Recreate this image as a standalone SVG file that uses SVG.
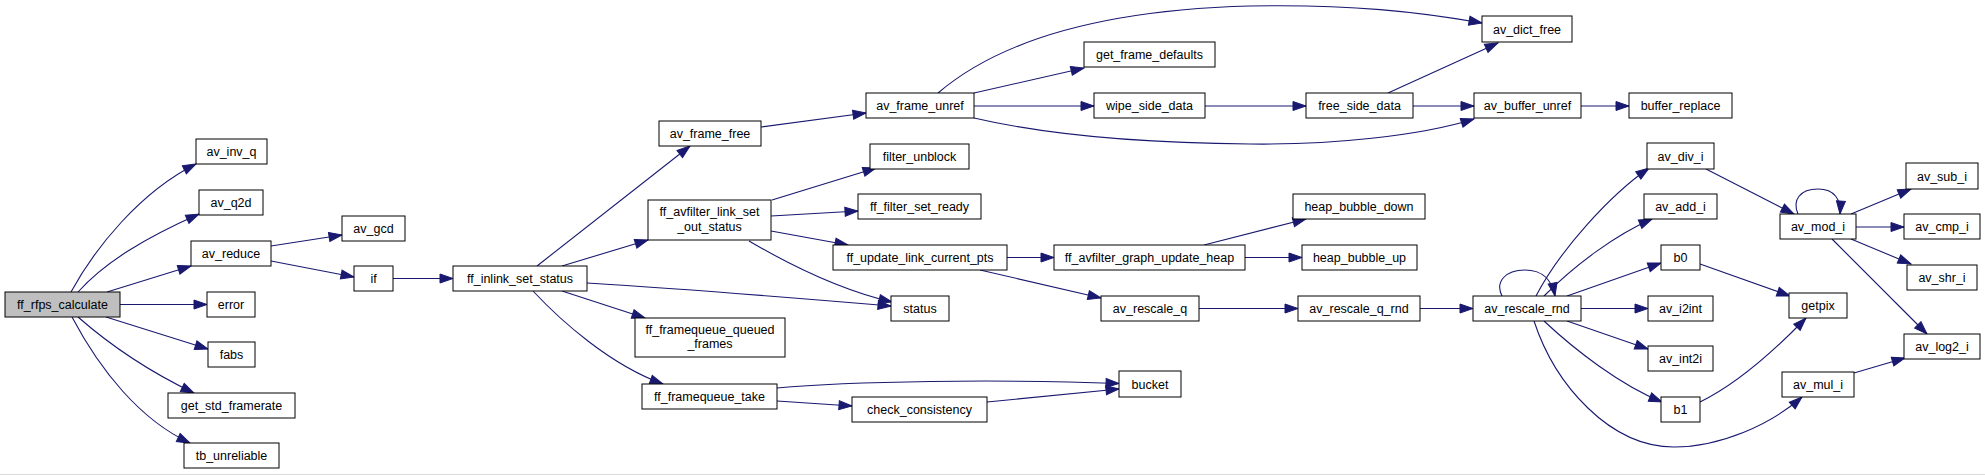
<svg xmlns="http://www.w3.org/2000/svg" width="1985" height="475" viewBox="0 0 1985 475">
<style>
.n rect{fill:#fff;stroke:#000;stroke-width:1}
.n.root rect{fill:#bfbfbf}
.n text{font-family:"Liberation Sans",Arial,sans-serif;font-size:12.5px;fill:#000;text-anchor:middle}
#edges path{fill:none;stroke:#191970;stroke-width:1.1;marker-end:url(#arr)}
</style>
<defs>
<marker id="arr" markerUnits="userSpaceOnUse" markerWidth="14" markerHeight="10" refX="13" refY="4.5" orient="auto" overflow="visible">
<path d="M0,0 L13,4.5 L0,9 z" fill="#191970" stroke="#191970" stroke-width="1"/>
</marker>
</defs>
<rect x="0" y="0" width="1985" height="475" fill="#fff"/>
<line x1="0" y1="474.5" x2="1985" y2="474.5" stroke="#dcdcdc" stroke-width="1"/>
<g id="edges">
<path d="M71,292 C95,248 140,192 196,164"/>
<path d="M78,292 C105,262 145,238 199,214"/>
<path d="M107,292 L191,266"/>
<path d="M120,304.5 L207,304.5"/>
<path d="M106,317 L208,349"/>
<path d="M78,317 C110,345 150,372 194,393"/>
<path d="M72,317 C100,370 140,420 190,443"/>
<path d="M271,246 L342,235"/>
<path d="M271,261 L354,277"/>
<path d="M393,278.5 L453,278.5"/>
<path d="M537,266 L690,146"/>
<path d="M562,266 L648,240"/>
<path d="M587,283 C700,290 820,300 891,306"/>
<path d="M562,291 L645,318"/>
<path d="M533,291 C560,320 610,365 663,384"/>
<path d="M772,200 L876,168"/>
<path d="M771,216 L858,211"/>
<path d="M771,231 L848,245"/>
<path d="M749,241 C790,265 840,290 892,302"/>
<path d="M1007,257.5 L1054,257.5"/>
<path d="M980,270 L1101,298"/>
<path d="M1204,245 L1306,219"/>
<path d="M1245,257.5 L1302,257.5"/>
<path d="M1199,308.5 L1298,308.5"/>
<path d="M1420,308.5 L1473,308.5"/>
<path d="M777,388 C850,381 1000,379 1119,383.5"/>
<path d="M777,401 L852,406"/>
<path d="M987,402 L1119,389"/>
<path d="M761,127 L866,113"/>
<path d="M938,93 C1000,40 1100,10 1250,6 C1350,4 1420,12 1482,23"/>
<path d="M974,93 L1084,68"/>
<path d="M974,106 L1094,106"/>
<path d="M974,118 C1030,131 1120,143 1250,144 C1330,145 1420,136 1474,119"/>
<path d="M1205,106 L1306,106"/>
<path d="M1388,93 L1498,43"/>
<path d="M1413,106 L1474,106"/>
<path d="M1581,106 L1629,106"/>
<path d="M1502,296 C1495,282 1505,270 1525,270 C1542,270 1552,280 1555,296"/>
<path d="M1536,296 C1560,250 1610,195 1649,168"/>
<path d="M1544,296 C1575,265 1615,235 1652,219"/>
<path d="M1567,296 L1661,263"/>
<path d="M1581,308.5 L1648,308.5"/>
<path d="M1567,321 L1648,349"/>
<path d="M1544,321 C1575,350 1620,385 1662,402"/>
<path d="M1534,321 C1555,385 1610,447 1674,447 C1720,447 1770,425 1802,397"/>
<path d="M1706,169 L1794,214"/>
<path d="M1798,214 C1792,200 1800,189 1818,189 C1835,189 1841,200 1840,214"/>
<path d="M1851,214 L1911,189"/>
<path d="M1856,227 L1904,227"/>
<path d="M1851,239 L1911,264"/>
<path d="M1832,239 L1927,334"/>
<path d="M1700,264 L1790,296"/>
<path d="M1700,402 C1735,385 1775,350 1806,318"/>
<path d="M1854,373 L1905,358"/>
</g>
<g id="ff_rfps_calculate" class="n root"><rect x="5" y="292" width="115" height="25"/><text x="62.5" y="309">ff_rfps_calculate</text></g>
<g id="av_inv_q" class="n"><rect x="196" y="139" width="71" height="25"/><text x="231.5" y="156">av_inv_q</text></g>
<g id="av_q2d" class="n"><rect x="199" y="190" width="64" height="25"/><text x="231" y="207">av_q2d</text></g>
<g id="av_reduce" class="n"><rect x="191" y="241" width="80" height="25"/><text x="231" y="258">av_reduce</text></g>
<g id="av_gcd" class="n"><rect x="342" y="216" width="63" height="25"/><text x="373.5" y="233">av_gcd</text></g>
<g id="if" class="n"><rect x="354" y="266" width="39" height="25"/><text x="373.5" y="283">if</text></g>
<g id="error" class="n"><rect x="207" y="292" width="48" height="25"/><text x="231" y="309">error</text></g>
<g id="fabs" class="n"><rect x="208" y="342" width="47" height="25"/><text x="231.5" y="359">fabs</text></g>
<g id="get_std_framerate" class="n"><rect x="168" y="393" width="127" height="25"/><text x="231.5" y="410">get_std_framerate</text></g>
<g id="tb_unreliable" class="n"><rect x="184" y="443" width="95" height="25"/><text x="231.5" y="460">tb_unreliable</text></g>
<g id="ff_inlink_set_status" class="n"><rect x="453" y="266" width="134" height="25"/><text x="520" y="283">ff_inlink_set_status</text></g>
<g id="av_frame_free" class="n"><rect x="659" y="121" width="102" height="25"/><text x="710" y="138">av_frame_free</text></g>
<g id="ff_avfilter_link_set_out_status" class="n"><rect x="648" y="200" width="123" height="40"/><text x="709.5" y="216">ff_avfilter_link_set</text><text x="709.5" y="231">_out_status</text></g>
<g id="ff_framequeue_queued_frames" class="n"><rect x="635" y="318" width="150" height="39"/><text x="710" y="334">ff_framequeue_queued</text><text x="710" y="348">_frames</text></g>
<g id="ff_framequeue_take" class="n"><rect x="642" y="384" width="135" height="25"/><text x="709.5" y="401">ff_framequeue_take</text></g>
<g id="av_frame_unref" class="n"><rect x="866" y="93" width="108" height="25"/><text x="920" y="110">av_frame_unref</text></g>
<g id="filter_unblock" class="n"><rect x="870" y="144" width="99" height="25"/><text x="919.5" y="161">filter_unblock</text></g>
<g id="ff_filter_set_ready" class="n"><rect x="858" y="194" width="123" height="25"/><text x="919.5" y="211">ff_filter_set_ready</text></g>
<g id="ff_update_link_current_pts" class="n"><rect x="833" y="245" width="174" height="25"/><text x="920" y="262">ff_update_link_current_pts</text></g>
<g id="status" class="n"><rect x="891" y="296" width="58" height="25"/><text x="920" y="313">status</text></g>
<g id="check_consistency" class="n"><rect x="852" y="397" width="135" height="25"/><text x="919.5" y="414">check_consistency</text></g>
<g id="get_frame_defaults" class="n"><rect x="1084" y="42" width="131" height="25"/><text x="1149.5" y="59">get_frame_defaults</text></g>
<g id="wipe_side_data" class="n"><rect x="1094" y="93" width="111" height="25"/><text x="1149.5" y="110">wipe_side_data</text></g>
<g id="ff_avfilter_graph_update_heap" class="n"><rect x="1054" y="245" width="191" height="25"/><text x="1149.5" y="262">ff_avfilter_graph_update_heap</text></g>
<g id="av_rescale_q" class="n"><rect x="1101" y="296" width="98" height="25"/><text x="1150" y="313">av_rescale_q</text></g>
<g id="bucket" class="n"><rect x="1119" y="371" width="62" height="26"/><text x="1150" y="388.5">bucket</text></g>
<g id="free_side_data" class="n"><rect x="1306" y="93" width="107" height="25"/><text x="1359.5" y="110">free_side_data</text></g>
<g id="heap_bubble_down" class="n"><rect x="1293" y="194" width="132" height="25"/><text x="1359" y="211">heap_bubble_down</text></g>
<g id="heap_bubble_up" class="n"><rect x="1302" y="245" width="115" height="25"/><text x="1359.5" y="262">heap_bubble_up</text></g>
<g id="av_rescale_q_rnd" class="n"><rect x="1298" y="296" width="122" height="25"/><text x="1359" y="313">av_rescale_q_rnd</text></g>
<g id="av_dict_free" class="n"><rect x="1482" y="16" width="90" height="26"/><text x="1527" y="33.5">av_dict_free</text></g>
<g id="av_buffer_unref" class="n"><rect x="1474" y="93" width="107" height="25"/><text x="1527.5" y="110">av_buffer_unref</text></g>
<g id="av_rescale_rnd" class="n"><rect x="1473" y="296" width="108" height="25"/><text x="1527" y="313">av_rescale_rnd</text></g>
<g id="buffer_replace" class="n"><rect x="1629" y="93" width="103" height="25"/><text x="1680.5" y="110">buffer_replace</text></g>
<g id="av_div_i" class="n"><rect x="1647" y="143" width="67" height="26"/><text x="1680.5" y="160.5">av_div_i</text></g>
<g id="av_add_i" class="n"><rect x="1644" y="194" width="73" height="25"/><text x="1680.5" y="211">av_add_i</text></g>
<g id="b0" class="n"><rect x="1661" y="245" width="39" height="25"/><text x="1680.5" y="262">b0</text></g>
<g id="av_i2int" class="n"><rect x="1648" y="296" width="65" height="25"/><text x="1680.5" y="313">av_i2int</text></g>
<g id="av_int2i" class="n"><rect x="1648" y="346" width="65" height="25"/><text x="1680.5" y="363">av_int2i</text></g>
<g id="b1" class="n"><rect x="1661" y="397" width="39" height="25"/><text x="1680.5" y="414">b1</text></g>
<g id="av_mod_i" class="n"><rect x="1780" y="214" width="76" height="25"/><text x="1818" y="231">av_mod_i</text></g>
<g id="getpix" class="n"><rect x="1789" y="293" width="58" height="25"/><text x="1818" y="310">getpix</text></g>
<g id="av_mul_i" class="n"><rect x="1782" y="372" width="72" height="25"/><text x="1818" y="389">av_mul_i</text></g>
<g id="av_sub_i" class="n"><rect x="1906" y="163" width="72" height="26"/><text x="1942" y="180.5">av_sub_i</text></g>
<g id="av_cmp_i" class="n"><rect x="1904" y="214" width="76" height="25"/><text x="1942" y="231">av_cmp_i</text></g>
<g id="av_shr_i" class="n"><rect x="1907" y="265" width="70" height="25"/><text x="1942" y="282">av_shr_i</text></g>
<g id="av_log2_i" class="n"><rect x="1904" y="334" width="76" height="25"/><text x="1942" y="351">av_log2_i</text></g>
</svg>
